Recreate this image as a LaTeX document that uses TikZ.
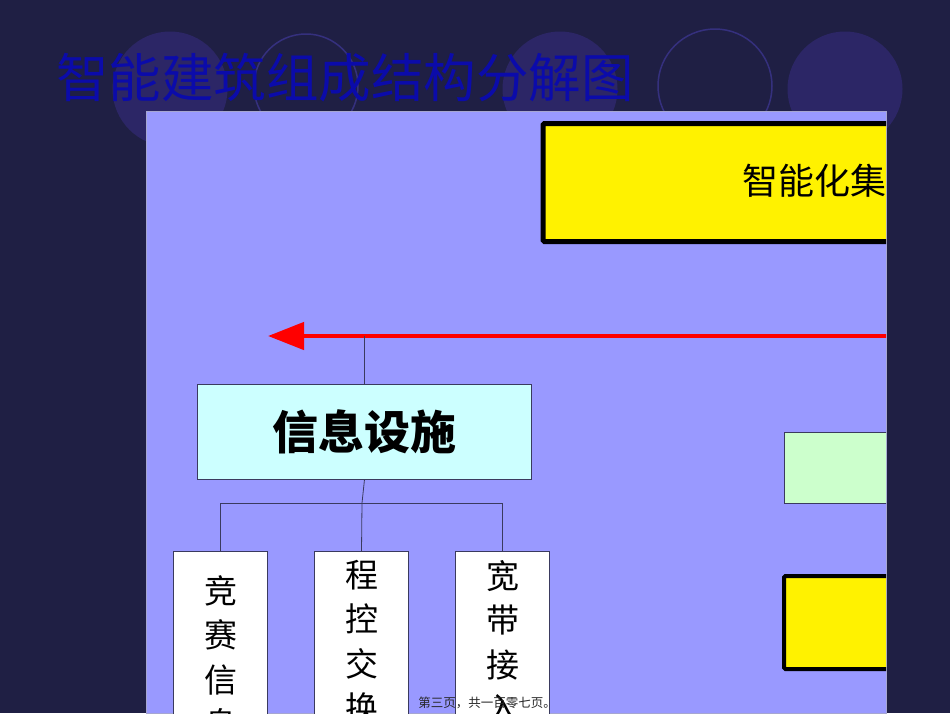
\documentclass[tikz,border=0pt]{standalone}
\usepackage{fontspec}
\newfontfamily\cjk{Noto Sans CJK SC}
\usetikzlibrary{arrows.meta}
\definecolor{slidebg}{HTML}{1F1F44}
\definecolor{ringfill}{HTML}{2C2666}
\definecolor{ringline}{HTML}{35307E}
\definecolor{titleblue}{HTML}{0B0BAA}
\definecolor{panel}{HTML}{9999FF}
\definecolor{paleCyan}{HTML}{CCFFFF}
\definecolor{paleGreen}{HTML}{CCFFCC}
\definecolor{wireGray}{HTML}{3A3A5E}

\begin{document}
\begin{tikzpicture}[x=1pt, y=-1pt,
  wire/.style={draw=wireGray, line width=0.8pt},
  yellowbox/.style={draw=black, fill=yellow, rounded corners=1.5pt},
  cell/.style={draw=wireGray, fill=white, line width=0.8pt, minimum width=94pt, minimum height=200pt, anchor=north, inner sep=0pt},
  celltext/.style={anchor=north, inner sep=0pt, align=center, font=\cjk\fontsize{33}{44.5}\selectfont}]
\useasboundingbox (0,0) rectangle (950,713);
% slide background and rings
\fill [slidebg] (0,0) rectangle (950,713);
\fill [ringfill] (170,89) circle (57.5);
\draw [ringline, line width=1.5pt] (306,86) circle (52);
\fill [ringfill] (560,89) circle (57.5);
\draw [ringline, line width=1.5pt] (715,86) circle (57);
\fill [ringfill] (845,89) circle (57.5);
\node [anchor=west, inner sep=0pt, text=titleblue, font=\cjk\fontsize{52.5}{56}\selectfont] (title) at (56,78) {智能建筑组成结构分解图};
% panel
\draw [fill=panel, draw=panel!70!black!60, line width=0.8pt] (146,111) rectangle (886,713);
\begin{scope}
\clip (146,111) rectangle (886,713);
\node [yellowbox, line width=5pt, minimum width=500pt, minimum height=118pt] (integ) at (793,182.5) {};
\node [anchor=west, inner sep=0pt, font=\cjk\fontsize{36}{40}\selectfont] (integtext) at (742,181) {智能化集};
\coordinate (arrowin) at (892,336);
\coordinate (arrowtip) at (268,336);
\draw [red, line width=4.5pt, -{Triangle[length=36pt, width=27pt]}] (arrowin) -- (arrowtip);
\node [draw=wireGray, fill=paleCyan, line width=0.8pt, minimum width=334pt, minimum height=95pt, inner sep=0pt, font=\cjk\bfseries\fontsize{46}{50}\selectfont] (info) at (364.5,431.5) {信息设施};
\draw [wire] (info.north) -- (info.north |- arrowtip);
\node [draw=wireGray, fill=paleGreen, line width=0.8pt, minimum width=210pt, minimum height=71pt] (green) at (889,467.5) {};
\node [yellowbox, line width=4pt, minimum width=210pt, minimum height=93pt] (lower) at (889,622.5) {};
% three service boxes
\node [cell] (c1) at (220.5,551) {};
\node [cell] (c2) at (361.5,551) {};
\node [cell] (c3) at (502.5,551) {};
\node [celltext] (t1) at (c1.north) [yshift=-24pt] {竞\\赛\\信\\息};
\node [celltext] (t2) at (c2.north) [yshift=-9pt] {程\\控\\交\\换};
\node [celltext] (t3) at (c3.north) [yshift=-9pt] {宽\\带\\接\\入};
\coordinate (bus) at (362,503);
\draw [wire] (info.south) -- (bus);
\draw [wire] (c1.north) |- (bus) -| (c3.north);
\draw [wire] (bus) -- (c2.north);
\node [inner sep=0pt, font=\cjk\fontsize{12.5}{14}\selectfont, text=black!85] (footer) at (487,703) {第三页，共一百零七页。};
\end{scope}
\end{tikzpicture}
\end{document}
